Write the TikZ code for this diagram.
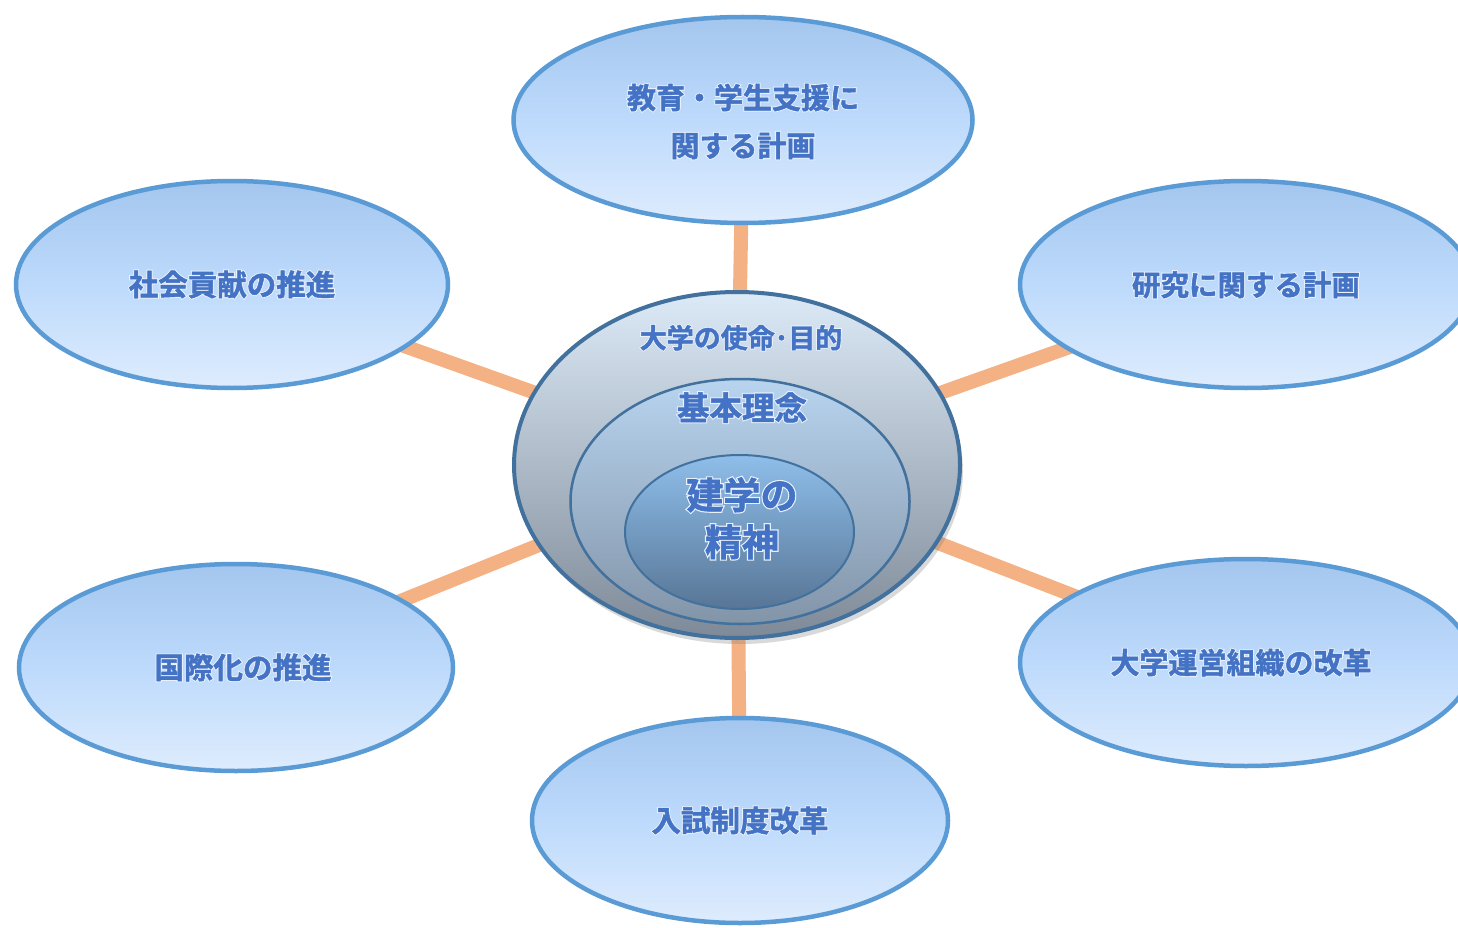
\documentclass[tikz,border=0pt]{standalone}
\usepackage{fontspec}
\newfontfamily\jpfont[FakeBold=1.6]{Noto Sans CJK JP Bold}
\newfontfamily\jpglow[FakeBold=8]{Noto Sans CJK JP Bold}
\usetikzlibrary{shapes.geometric,backgrounds,shadows}
\definecolor{txtblue}{HTML}{4472C4}
\definecolor{bordblue}{HTML}{5B9BD5}
\definecolor{darkbord}{HTML}{41719C}
\definecolor{conn}{HTML}{F4B183}
\definecolor{otop}{RGB}{164,198,238}
\definecolor{omid}{RGB}{189,218,252}
\definecolor{obot}{RGB}{222,236,253}
\definecolor{aTop}{RGB}{220,233,246}
\definecolor{aBot}{RGB}{126,138,152}
\definecolor{bTop}{RGB}{184,212,239}
\definecolor{bBot}{RGB}{130,148,168}
\definecolor{cTop}{RGB}{142,190,234}
\definecolor{cBot}{RGB}{88,118,150}
\definecolor{glowc}{RGB}{232,241,252}
\newsavebox\gwhite
\newsavebox\gmain
\newcommand\glowtxt[1]{%
  \sbox\gwhite{\jpglow\color{glowc}\begin{tabular}{@{}c@{}}#1\end{tabular}}%
  \sbox\gmain{\jpfont\color{txtblue}\begin{tabular}{@{}c@{}}#1\end{tabular}}%
  \rlap{\copy\gwhite}\copy\gmain}
\tikzset{
  outerell/.style={ellipse, draw=bordblue, line width=4.5pt, inner sep=0pt,
    top color=otop, bottom color=obot, middle color=omid},
  connector/.style={draw=conn, line width=14pt},
  txt/.style={inner sep=0pt},
}
\begin{document}
\begin{tikzpicture}[x=1pt,y=-1pt]
\useasboundingbox (0,0) rectangle (1458,928);
% outer ellipses
\node[outerell, minimum width=459pt, minimum height=206pt] (top) at (743,120) {};
\node[outerell, minimum width=432pt, minimum height=207pt] (ul) at (232,284.5) {};
\node[outerell, minimum width=452pt, minimum height=207pt] (ur) at (1246,284.5) {};
\node[outerell, minimum width=434pt, minimum height=207pt] (ll) at (236,667.5) {};
\node[outerell, minimum width=452pt, minimum height=207pt] (lr) at (1246,662.5) {};
\node[outerell, minimum width=416pt, minimum height=205pt] (bot) at (740,820.5) {};
% center ellipses
\node[ellipse, draw=darkbord, line width=4pt, inner sep=0pt, minimum width=446pt, minimum height=346pt,
  top color=aTop, bottom color=aBot,
  drop shadow={shadow xshift=3pt, shadow yshift=-6pt, opacity=0.3}] (c1) at (737,465) {};
\node[ellipse, draw=darkbord, line width=2.5pt, inner sep=0pt, minimum width=339pt, minimum height=245pt,
  top color=bTop, bottom color=bBot] (c2) at (740,501.5) {};
\node[ellipse, draw=darkbord, line width=2pt, inner sep=0pt, minimum width=229pt, minimum height=154pt,
  top color=cTop, bottom color=cBot] (c3) at (739.5,532) {};
% connectors
\begin{pgfonlayer}{background}
\foreach \t in {top,ul,ur,ll,lr,bot}{\draw[connector] (c1.center) -- (\t.center);}
\end{pgfonlayer}
% labels
\node[txt, font=\fontsize{29}{48}\selectfont] (ttop) at (743,123) {\glowtxt{教育・学生支援に\\関する計画}};
\node[txt, font=\fontsize{29.5}{48}\selectfont] (tul) at (232,286) {\glowtxt{社会貢献の推進}};
\node[txt, font=\fontsize{28.5}{48}\selectfont] (tur) at (1246,286) {\glowtxt{研究に関する計画}};
\node[txt, font=\fontsize{29.5}{48}\selectfont] (tll) at (243,669) {\glowtxt{国際化の推進}};
\node[txt, font=\fontsize{29}{48}\selectfont] (tlr) at (1241,664) {\glowtxt{大学運営組織の改革}};
\node[txt, font=\fontsize{29.5}{48}\selectfont] (tbot) at (740,822) {\glowtxt{入試制度改革}};
\node[txt, font=\fontsize{27}{40}\selectfont] (tc1) at (741,340) {\glowtxt{大学の使命･目的}};
\node[txt, font=\fontsize{32.5}{40}\selectfont] (tc2) at (742,412) {\glowtxt{基本理念}};
\node[txt, font=\fontsize{37}{47}\selectfont] (tc3) at (742,523) {\glowtxt{建学の\\精神}};
\end{tikzpicture}
\end{document}
